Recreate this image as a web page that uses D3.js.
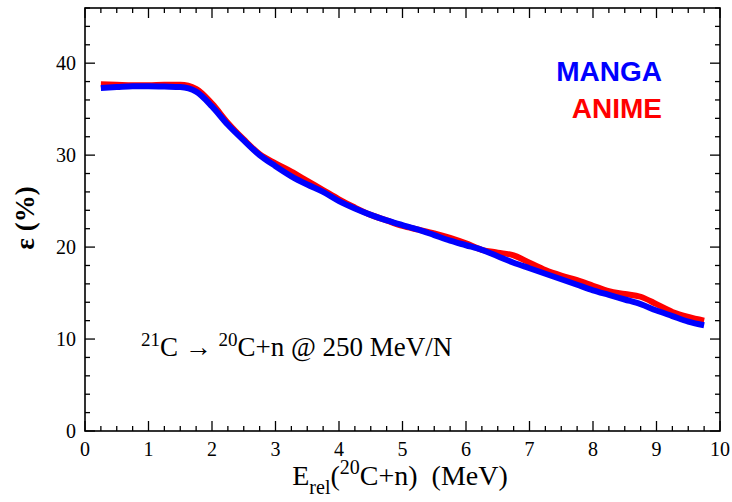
<!DOCTYPE html>
<html><head><meta charset="utf-8">
<script src="https://cdn.jsdelivr.net/npm/d3@7"></script>
<style>body{margin:0;background:#fff}svg{display:block}
.serif{font-family:"Liberation Serif","Times New Roman",Times,"DejaVu Serif",serif}
.sans{font-family:"Liberation Sans",Arial,Helvetica,sans-serif}
</style>
</head><body>
<script>
const energies = [0.25,0.5,0.75,1.0,1.25,1.5,1.75,2.0,2.25,2.5,2.75,3.0,3.25,3.5,3.75,4.0,4.25,4.5,4.75,5.0,5.25,5.5,5.75,6.0,6.25,6.5,6.75,7.0,7.25,7.5,7.75,8.0,8.25,8.5,8.75,9.0,9.25,9.5,9.75];
const manga = [37.3,37.4,37.5,37.5,37.45,37.4,36.9,35.3,33.3,31.6,30.0,28.8,27.7,26.8,26.0,25.0,24.2,23.5,22.9,22.4,21.9,21.3,20.7,20.2,19.7,19.0,18.3,17.7,17.1,16.5,15.9,15.3,14.8,14.3,13.8,13.1,12.5,11.9,11.5];
const anime = [37.7,37.65,37.6,37.6,37.65,37.65,37.2,35.6,33.5,31.7,30.1,29.1,28.2,27.2,26.2,25.2,24.3,23.5,22.9,22.3,21.9,21.5,21.0,20.4,19.7,19.4,19.1,18.3,17.5,16.9,16.4,15.8,15.2,14.9,14.6,13.8,12.95,12.4,12.0];
const xTicks = [0,1,2,3,4,5,6,7,8,9,10];
const yTicks = [0,10,20,30,40];
const seriesNames = ["MANGA","ANIME"];

const W=732,H=502;
const m={l:85,r:12,t:8,b:71};
const svg=d3.select("body").append("svg").attr("width",W).attr("height",H);
const x=d3.scaleLinear().domain([0,10]).range([m.l,W-m.r]);
const y=d3.scaleLinear().domain([0,46]).range([H-m.b,m.t]);

const xMinor=d3.range(0,10.001,0.25).filter(v=>Math.abs(v-Math.round(v))>1e-6);
const yMinor=d3.range(0,46.001,2).filter(v=>v%10!==0);

function ticks(g,scale,vals,len,orient){
  g.selectAll(null).data(vals).enter().append("line")
   .attr("stroke","#000").attr("stroke-width",1.3)
   .each(function(v){
     const s=d3.select(this);
     if(orient==="bottom") s.attr("x1",scale(v)).attr("x2",scale(v)).attr("y1",y(0)).attr("y2",y(0)-len);
     if(orient==="top") s.attr("x1",scale(v)).attr("x2",scale(v)).attr("y1",y(46)).attr("y2",y(46)+len);
     if(orient==="left") s.attr("y1",scale(v)).attr("y2",scale(v)).attr("x1",x(0)).attr("x2",x(0)+len);
     if(orient==="right") s.attr("y1",scale(v)).attr("y2",scale(v)).attr("x1",x(10)).attr("x2",x(10)-len);
   });
}
const tg=svg.append("g");
ticks(tg,x,xTicks,10,"bottom");ticks(tg,x,xMinor,5,"bottom");
ticks(tg,x,xTicks,10,"top");ticks(tg,x,xMinor,5,"top");
ticks(tg,y,yTicks,10,"left");ticks(tg,y,yMinor,5,"left");
ticks(tg,y,yTicks,10,"right");ticks(tg,y,yMinor,5,"right");

const line=d3.line().x((d,i)=>x(energies[i])).y(d=>y(d)).curve(d3.curveMonotoneX);
svg.append("path").datum(anime).attr("d",line).attr("fill","none").attr("stroke","#ff0000").attr("stroke-width",6).attr("stroke-linejoin","round");
svg.append("path").datum(manga).attr("d",line).attr("fill","none").attr("stroke","#0000ff").attr("stroke-width",6).attr("stroke-linejoin","round");

svg.append("rect").attr("x",x(0)).attr("y",y(46)).attr("width",x(10)-x(0)).attr("height",y(0)-y(46))
  .attr("fill","none").attr("stroke","#000").attr("stroke-width",1.6);

svg.append("g").selectAll("text").data(xTicks).enter().append("text").attr("class","serif")
  .attr("x",d=>x(d)).attr("y",y(0)+25).attr("text-anchor","middle")
  .style("font-size","20px").text(d=>d);
svg.append("g").selectAll("text").data(yTicks).enter().append("text").attr("class","serif")
  .attr("x",x(0)-9).attr("y",d=>y(d)+6.8).attr("text-anchor","end")
  .style("font-size","20px").text(d=>d);

// x label
const xl=svg.append("text").attr("class","serif").attr("x",400).attr("y",485).attr("text-anchor","middle")
  .style("font-size","28px");
xl.append("tspan").text("E");
xl.append("tspan").style("font-size","20px").attr("dy",9).text("rel");
xl.append("tspan").attr("dy",-9).text("(");
xl.append("tspan").style("font-size","20px").attr("dy",-11).text("20");
xl.append("tspan").attr("dy",11).text("C+n)\u00a0\u00a0(MeV)");

// y label
svg.append("text").attr("class","serif").attr("transform","translate(34,218) rotate(-90)").attr("text-anchor","middle")
  .style("font-size","27px").style("font-weight","bold").text("\u03b5 (%)");

// annotation
const an=svg.append("text").attr("class","serif").attr("x",141).attr("y",356).style("font-size","27px");
an.append("tspan").style("font-size","19px").attr("dy",-10).text("21");
an.append("tspan").attr("dy",10).text("C \u2192 ");
an.append("tspan").style("font-size","19px").attr("dy",-10).text("20");
an.append("tspan").attr("dy",10).text("C+n @ 250 MeV/N");

// legend
const legColors=["#0000ff","#ff0000"];
svg.append("g").selectAll("text").data(seriesNames).enter().append("text").attr("class","sans")
  .attr("x",662).attr("y",(d,i)=>81+i*37).attr("text-anchor","end")
  .style("font-weight","bold").style("font-size","28px")
  .attr("fill",(d,i)=>legColors[i]).text(d=>d);
</script>
</body></html>
